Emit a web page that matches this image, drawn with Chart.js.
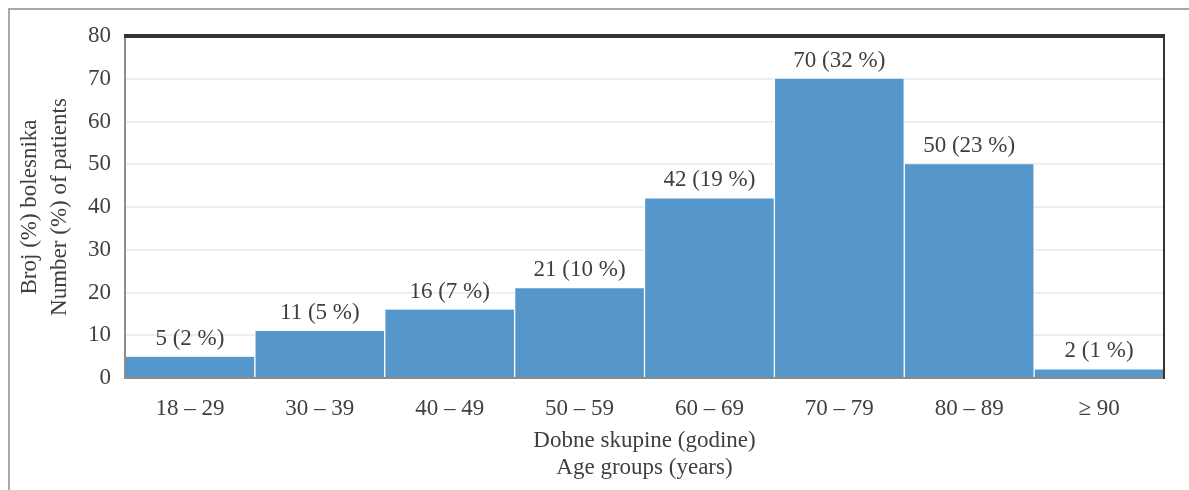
<!DOCTYPE html>
<html>
<head>
<meta charset="utf-8">
<script src="https://cdn.jsdelivr.net/npm/chart.js@4/dist/chart.umd.min.js"></script>
<style>
  html, body { margin: 0; padding: 0; background: #ffffff; }
  #wrap { width: 1189px; height: 490px; position: relative; }
</style>
</head>
<body>
<div id="wrap"><canvas id="c" width="1189" height="490"></canvas></div>
<script>
const categories = ['18 – 29', '30 – 39', '40 – 49', '50 – 59', '60 – 69', '70 – 79', '80 – 89', '≥ 90'];
const counts = [5, 11, 16, 21, 42, 70, 50, 2];
const percents = [2, 5, 7, 10, 19, 32, 23, 1];
const yTitleLines = ['Broj (%) bolesnika', 'Number (%) of patients'];
const xTitleLines = ['Dobne skupine (godine)', 'Age groups (years)'];
const yMin = 0, yMax = 80, yStep = 10;

const SERIF = '"Liberation Serif", "Times New Roman", "DejaVu Serif", serif';
const TEXT = '#3f3f3f';
const FS = 23;

const framePlugin = {
  id: 'frame',
  beforeDraw(chart) {
    const ctx = chart.ctx;
    ctx.save();
    ctx.fillStyle = '#ffffff';
    ctx.fillRect(0, 0, chart.width, chart.height);
    ctx.strokeStyle = '#a8a8a8';
    ctx.lineWidth = 2;
    ctx.beginPath();
    ctx.moveTo(9, chart.height);
    ctx.lineTo(9, 9);
    ctx.lineTo(chart.width, 9);
    ctx.stroke();
    ctx.restore();
  },
  afterDatasetsDraw(chart) {
    const ctx = chart.ctx;
    const a = chart.chartArea;
    ctx.save();
    ctx.strokeStyle = '#8c8c8c';
    ctx.lineWidth = 2;
    ctx.beginPath();
    ctx.moveTo(a.left, a.top);
    ctx.lineTo(a.left, a.bottom + 1);
    ctx.stroke();
    ctx.beginPath();
    ctx.moveTo(a.left - 1, a.bottom);
    ctx.lineTo(a.right, a.bottom);
    ctx.stroke();
    ctx.strokeStyle = '#333333';
    ctx.beginPath();
    ctx.moveTo(a.right, a.top);
    ctx.lineTo(a.right, a.bottom + 1);
    ctx.stroke();
    ctx.lineWidth = 4;
    ctx.beginPath();
    ctx.moveTo(a.left - 1, a.top);
    ctx.lineTo(a.right + 1, a.top);
    ctx.stroke();

    const meta = chart.getDatasetMeta(0);
    ctx.fillStyle = TEXT;
    ctx.font = FS + 'px ' + SERIF;
    ctx.textAlign = 'center';
    ctx.textBaseline = 'middle';
    meta.data.forEach((bar, i) => {
      ctx.fillText(counts[i] + ' (' + percents[i] + ' %)', bar.x, bar.y - 18);
    });
    ctx.restore();
  }
};

new Chart(document.getElementById('c'), {
  type: 'bar',
  data: {
    labels: categories,
    datasets: [{
      data: counts,
      backgroundColor: '#5597cb',
      borderColor: '#ffffff',
      borderWidth: { left: 1, right: 1, top: 0, bottom: 0 },
      borderSkipped: false,
      barPercentage: 1.0,
      categoryPercentage: 1.0
    }]
  },
  options: {
    responsive: false,
    animation: false,
    devicePixelRatio: 1,
    layout: { padding: { left: 8, top: 36, right: 25, bottom: 0 } },
    plugins: {
      legend: { display: false },
      tooltip: { enabled: false }
    },
    scales: {
      x: {
        grid: { display: false, drawTicks: false },
        border: { display: false },
        ticks: {
          color: TEXT,
          font: { family: SERIF, size: FS },
          padding: 17,
          maxRotation: 0
        },
        title: {
          display: true,
          text: xTitleLines,
          color: TEXT,
          font: { family: SERIF, size: FS, lineHeight: 1.17 },
          padding: { top: 0, bottom: 9 }
        },
        afterFit(scale) { scale.height = 112; }
      },
      y: {
        min: yMin,
        max: yMax,
        grid: {
          color: (c) => (c.tick && (c.tick.value === yMin || c.tick.value === yMax)) ? 'rgba(0,0,0,0)' : '#eeeeee',
          lineWidth: 2,
          drawTicks: false
        },
        border: { display: false },
        ticks: {
          stepSize: yStep,
          color: TEXT,
          font: { family: SERIF, size: FS },
          padding: 14
        },
        title: {
          display: true,
          text: yTitleLines,
          color: TEXT,
          font: { family: SERIF, size: FS, lineHeight: 1.3 },
          padding: { top: 7, bottom: 0 }
        },
        afterFit(scale) { scale.width = 117; }
      }
    }
  },
  plugins: [framePlugin]
});
</script>
</body>
</html>
